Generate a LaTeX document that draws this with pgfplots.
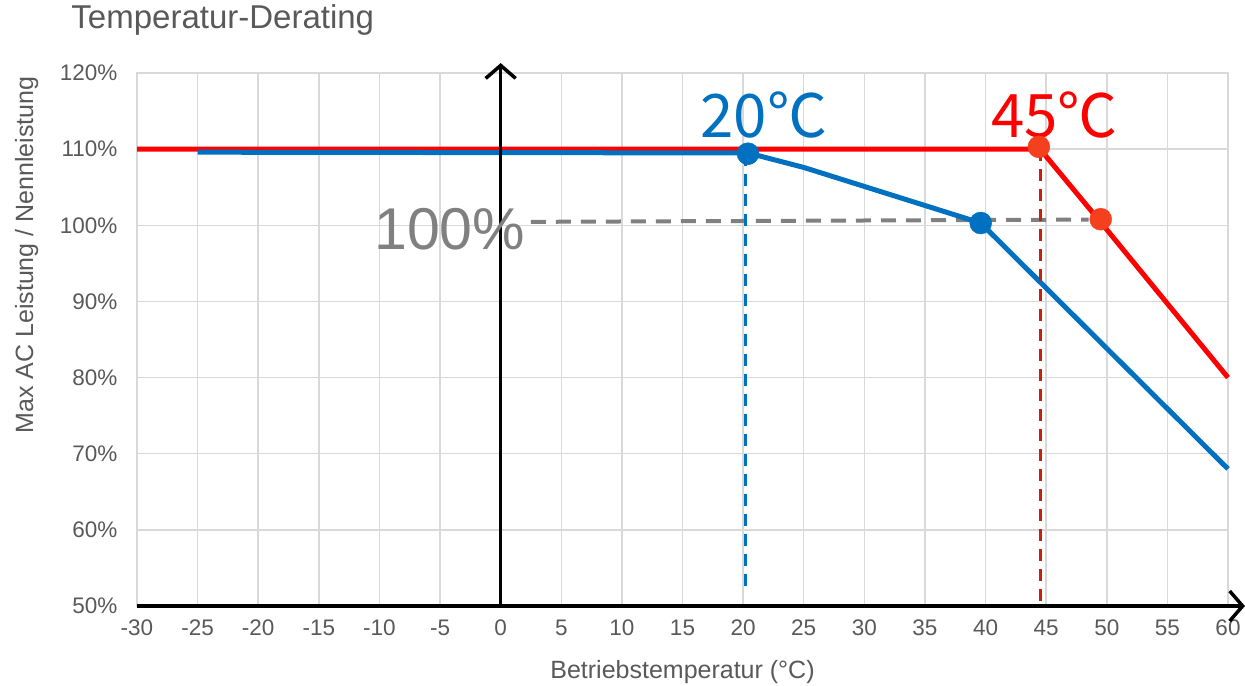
\documentclass[border=0pt]{standalone}
\usepackage{fontspec}
\setmainfont{Liberation Sans}
\newfontfamily\cjk{Noto Sans CJK SC}
\usepackage{pgfplots}
\pgfplotsset{compat=1.18}
\usetikzlibrary{arrows.meta}
\definecolor{txtgray}{HTML}{595959}
\definecolor{gridgray}{HTML}{D9D9D9}
\definecolor{myblue}{HTML}{0070C0}
\definecolor{myred}{HTML}{FF0000}
\definecolor{dred}{HTML}{C8200A}
\definecolor{mkred}{HTML}{F4401E}
\definecolor{dashgray}{HTML}{808080}
\begin{document}
\begin{tikzpicture}
\begin{axis}[
 width=1091pt, height=533pt, scale only axis,
 xmin=-30, xmax=60, ymin=50, ymax=120,
 xtick={-30,-25,...,60}, ytick={50,60,...,120},
 yticklabel={\pgfmathprintnumber{\tick}\%},
 /pgf/number format/assume math mode=true,
 major tick length=0pt,
 grid=major,
 major grid style={gridgray, line width=1.5pt},
 axis line style={gridgray, line width=1.5pt},
 tick label style={font=\fontsize{22.5}{26}\selectfont, text=txtgray},
 xticklabel style={yshift=-10pt},
 yticklabel style={xshift=-16pt},
 clip=false,
]
\coordinate (ll) at (rel axis cs:0,0);
\coordinate (ur) at (rel axis cs:1,1);
\addplot[dashgray, line width=4pt, dash pattern=on 15pt off 10pt] coordinates {(2.5,100.45) (48.5,100.75)};
\addplot[myred, line width=5pt] coordinates {(-30,110) (44.5,110) (49.5,100.4) (60,80)};
\addplot[myblue, line width=5pt] coordinates {(-25,109.6) (20.4,109.5) (25,107.6) (39.6,100.3) (60,68)};
\addplot[myblue, line width=3pt, dash pattern=on 12pt off 8pt] coordinates {(20.2,109.4) (20.2,51.8)};
\addplot[dred, line width=3pt, dash pattern=on 12pt off 8pt] coordinates {(44.5,110) (44.5,50)};
\draw[black, line width=3.5pt, -{Straight Barb[length=13pt, width=30pt]}] (axis cs:-30,50) -- (axis cs:61.4,50);
\draw[black, line width=3.5pt, -{Straight Barb[length=13pt, width=30pt]}] (axis cs:0,50) -- (axis cs:0,121.3);
\node[text=dashgray, font=\fontsize{59}{60}\selectfont] at (axis cs:-4.2,99.5) {100\%};
\node[text=myblue, font=\cjk\fontsize{60}{62}\selectfont] at (axis cs:21.7,114.5) {20℃};
\node[text=myred, font=\cjk\fontsize{60}{62}\selectfont] at (axis cs:45.7,114.5) {45℃};
\addplot[only marks, mark=*, mark size=11pt, color=myblue] coordinates {(20.4,109.4) (39.6,100.3)};
\addplot[only marks, mark=*, mark size=11pt, color=mkred] coordinates {(44.4,110.3) (49.5,100.8)};
\node[text=txtgray, font=\fontsize{33}{36}\selectfont, anchor=west] at (axis cs:-35.7,127) {Temperatur-Derating};
\node[text=txtgray, font=\fontsize{25}{28}\selectfont, rotate=90] at (axis cs:-39.1,96.1) {Max AC Leistung / Nennleistung};
\node[text=txtgray, font=\fontsize{25}{28}\selectfont] at (axis cs:15,41.3) {Betriebstemperatur (°C)};
\end{axis}
\pgfresetboundingbox
\path[use as bounding box] ([shift={(-137pt,-79pt)}]ll) rectangle ([shift={(17pt,73pt)}]ur);
\end{tikzpicture}
\end{document}
